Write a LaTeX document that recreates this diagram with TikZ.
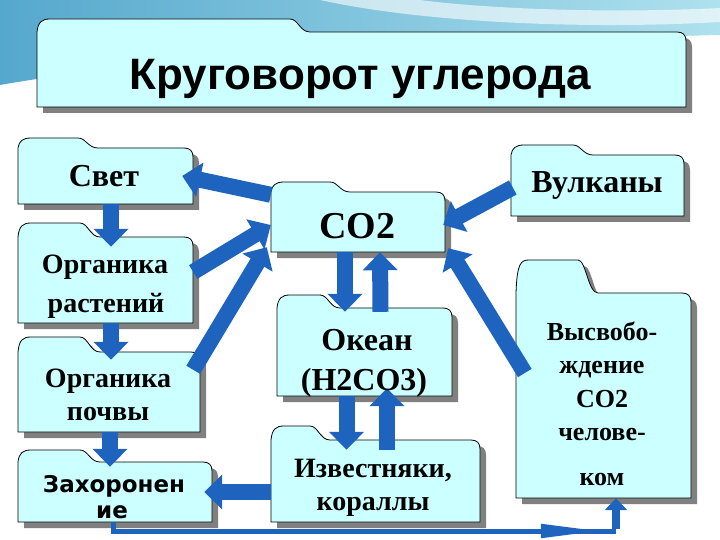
\documentclass[tikz,border=0pt]{standalone}
\usepackage{fontspec}
\setmainfont{Liberation Serif}
\newfontfamily\titlefont{Liberation Sans}
\newfontfamily\boxsans{DejaVu Sans}
\usetikzlibrary{arrows.meta,calc}
\definecolor{boxfill}{RGB}{204,255,255}
\definecolor{shadowgray}{RGB}{128,128,128}
\definecolor{arrowblue}{RGB}{30,100,190}
\definecolor{bgdark}{RGB}{85,168,205}
\definecolor{bglight}{RGB}{175,225,238}

\newcommand{\folder}[7]{% name x1 tabtop bodytop x2 y2 tabright
  \begin{scope}[shift={(6,6)}]
    \fill[shadowgray] (#2,#6) -- (#2,#4) .. controls (#2+1,#3+3) and (#2+5,#3) .. (#2+13,#3)
      -- (#7-10,#3) .. controls (#7-2,#3) and (#7,#4) .. (#7+10,#4)
      -- (#5-9,#4) .. controls (#5-3,#4) and (#5,#4+3) .. (#5,#4+9) -- (#5,#6) -- cycle;
  \end{scope}
  \filldraw[fill=boxfill, draw=black, line width=0.8pt] (#2,#6) -- (#2,#4) .. controls (#2+1,#3+3) and (#2+5,#3) .. (#2+13,#3)
      -- (#7-10,#3) .. controls (#7-2,#3) and (#7,#4) .. (#7+10,#4)
      -- (#5-9,#4) .. controls (#5-3,#4) and (#5,#4+3) .. (#5,#4+9) -- (#5,#6) -- cycle;
  \node[name=#1, draw=none, inner sep=0pt, minimum width={(#5-#2)*1pt}, minimum height={(#6-#4)*1pt}] at ({(#2+#5)/2},{(#4+#6)/2}) {};
}

\tikzset{
  blk/.style={draw=arrowblue, line width=16pt, -{Triangle[width=34pt,length=18pt]}},
  txt/.style={anchor=base, inner sep=0pt, font=\bfseries\fontsize{#1}{#1}\selectfont},
}

\begin{document}
\begin{tikzpicture}[x=1pt, y=-1pt]
\useasboundingbox (0,0) rectangle (720,540);
\fill[white] (0,0) rectangle (720,540);
% background swoosh
\shade[left color=bgdark, right color=bglight] (0,0) -- (720,0) -- (720,35) .. controls (500,40) and (200,50) .. (0,85) -- cycle;
\fill[white, opacity=0.6] (320,0) .. controls (420,22) and (580,30) .. (720,22) -- (720,8) .. controls (600,14) and (480,8) .. (420,0) -- cycle;

% boxes
\folder{title}{37}{19}{32}{686}{107}{300}
\folder{svet}{18}{138}{148}{193}{204}{88}
\folder{orgr}{18}{223}{237}{193}{323}{90}
\folder{orgp}{18}{337}{352}{200}{432}{90}
\folder{zakh}{18}{450}{462}{212}{522}{90}
\folder{co2}{271}{182}{192}{445}{252}{340}
\folder{ocean}{277}{295}{308}{452}{396}{330}
\folder{izv}{271}{426}{440}{480}{522}{320}
\folder{vulk}{511}{145}{155}{684}{216}{583}
\folder{vysv}{516}{260}{293}{691}{498}{588}

% arrows
\draw[blk] ([yshift=-3pt]co2.north west) -- ([xshift=-11pt]svet.east);
\draw[blk] ([xshift=5.5pt]svet.south) -- ([xshift=5.5pt,yshift=-10pt]orgr.north);
\draw[blk] ([xshift=5.5pt]orgr.south) -- ([xshift=2pt,yshift=-8pt]orgp.north);
\draw[blk] ([xshift=1pt]orgp.south) -- ([xshift=-5pt,yshift=-5pt]zakh.north);
\draw[blk] ([yshift=8pt]orgr.east) -- ([yshift=-3pt]co2.west);
\draw[blk] ([xshift=-7pt,yshift=-18pt]orgp.north east) -- ([xshift=-4pt,yshift=5pt]co2.south west);
\draw[blk] ([xshift=-13pt]co2.south) -- ([xshift=-19.5pt,yshift=-4pt]ocean.north);
\draw[blk] ([xshift=16pt,yshift=-4pt]ocean.north) -- ([xshift=22pt]co2.south);
\draw[blk] ([xshift=-18pt]ocean.south) -- ([xshift=-29pt,yshift=-10pt]izv.north);
\draw[blk] ([xshift=11.5pt,yshift=-10pt]izv.north) -- ([xshift=22.5pt,yshift=8pt]ocean.south);
\draw[blk] ([yshift=-11pt]izv.west) -- ([xshift=-8pt]zakh.east);
\draw[blk] ([xshift=2pt,yshift=-2pt]vulk.west) -- ([xshift=-2pt,yshift=-3pt]co2.east);
\draw[blk] ([xshift=9pt,yshift=22.5pt]vysv.west) -- ([xshift=3pt,yshift=4pt]co2.south east);

% bottom connector
\coordinate (bl) at (113,531);
\coordinate (br) at (616,531);
\draw[arrowblue, line width=5pt] ([xshift=-2pt]zakh.south) |- (br);
\draw[arrowblue, line width=5pt, -{Triangle[width=13pt,length=60pt]}] (bl) -- ($(bl)!0.97!(br)$);
\draw[arrowblue, line width=8pt, -{Triangle[width=22pt,length=12pt]}] ([yshift=2.5pt]br) -- (vysv.south -| br);

% texts
\node[anchor=base, inner sep=0pt, font=\titlefont\bfseries\fontsize{44}{44}\selectfont] (title-t) at (360,90) {Круговорот углерода};
\node[txt=32] (svet-t) at (104,187) {Свет};
\node[txt=28] (orgr-t1) at (105,273) {Органика};
\node[txt=28] (orgr-t2) at (106,312) {растений};
\node[txt=28] (orgp-t1) at (108,387) {Органика};
\node[txt=28] (orgp-t2) at (108,420) {почвы};
\node[anchor=base, inner sep=0pt, font=\boxsans\bfseries\fontsize{23}{23}\selectfont] (zakh-t1) at (114,492) {Захоронен};
\node[anchor=base, inner sep=0pt, font=\boxsans\bfseries\fontsize{23}{23}\selectfont] (zakh-t2) at (112,518) {ие};
\node[txt=38] (co2-t) at (357,238) {CO2};
\node[txt=32] (ocean-t1) at (367,350) {Океан};
\node[txt=32] (ocean-t2) at (364,390) {(H2CO3)};
\node[txt=28] (izv-t1) at (373,477) {Известняки,};
\node[txt=28] (izv-t2) at (373,510) {кораллы};
\node[txt=32] (vulk-t) at (597,193) {Вулканы};
\node[txt=26] (vysv-t1) at (602,340) {Высвобо-};
\node[txt=26] (vysv-t2) at (602,373) {ждение};
\node[txt=26] (vysv-t3) at (602,407) {CO2};
\node[txt=26] (vysv-t4) at (602,440) {челове-};
\node[txt=26] (vysv-t5) at (602,485) {ком};
\end{tikzpicture}
\end{document}
